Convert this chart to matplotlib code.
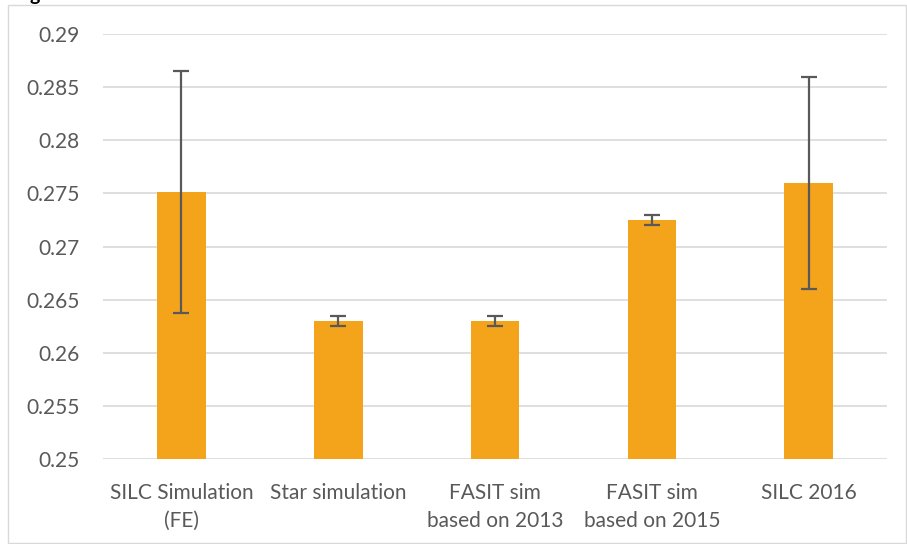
import numpy as np
import matplotlib
matplotlib.use("Agg")
import matplotlib.pyplot as plt
from matplotlib.patches import Rectangle

categories = ["SILC Simulation\n(FE)", "Star simulation", "FASIT sim\nbased on 2013",
              "FASIT sim\nbased on 2015", "SILC 2016"]
values = [0.2751, 0.2630, 0.2630, 0.2725, 0.2760]
errors = [0.0114, 0.0005, 0.0005, 0.0005, 0.0100]
yticks = [0.25, 0.255, 0.26, 0.265, 0.27, 0.275, 0.28, 0.285, 0.29]
ytick_labels = ["0.25", "0.255", "0.26", "0.265", "0.27", "0.275", "0.28", "0.285", "0.29"]

plt.rcParams['font.family'] = ['Lato', 'DejaVu Sans']

fig = plt.figure(figsize=(9.07, 5.44), dpi=100)
ax = fig.add_axes([0.1136, 0.1562, 0.8644, 0.7813])

# chart border like the office export
fig.patches.append(Rectangle((8 / 907, 1 / 544), 898 / 907, 538 / 544, transform=fig.transFigure,
                             fill=False, edgecolor="#d9d9d9", linewidth=1.0))
fig.text(0.033, 0.999, "g", fontsize=14, fontweight="bold", va="baseline", ha="left")

x = np.arange(len(categories))
ax.bar(x, values, width=0.31, color="#f4a41a", zorder=3)
ax.errorbar(x, values, yerr=errors, fmt="none", ecolor="#595959", elinewidth=1.6,
            capsize=6, capthick=1.6, zorder=4)

ax.set_xlim(-0.5, len(categories) - 0.5)
ax.set_ylim(0.25, 0.29)
ax.set_yticks(yticks)
ax.set_yticklabels(ytick_labels)
ax.set_xticks(x)
ax.set_xticklabels(categories, linespacing=1.5)

ax.grid(axis="y", color="#d9d9d9", linewidth=1.2, zorder=0)
for s in ax.spines.values():
    s.set_visible(False)
ax.tick_params(axis="both", length=0, labelsize=15, colors="#595959")
ax.tick_params(axis="y", pad=17)
ax.tick_params(axis="x", pad=17)

fig.savefig("out.png", dpi=100)
